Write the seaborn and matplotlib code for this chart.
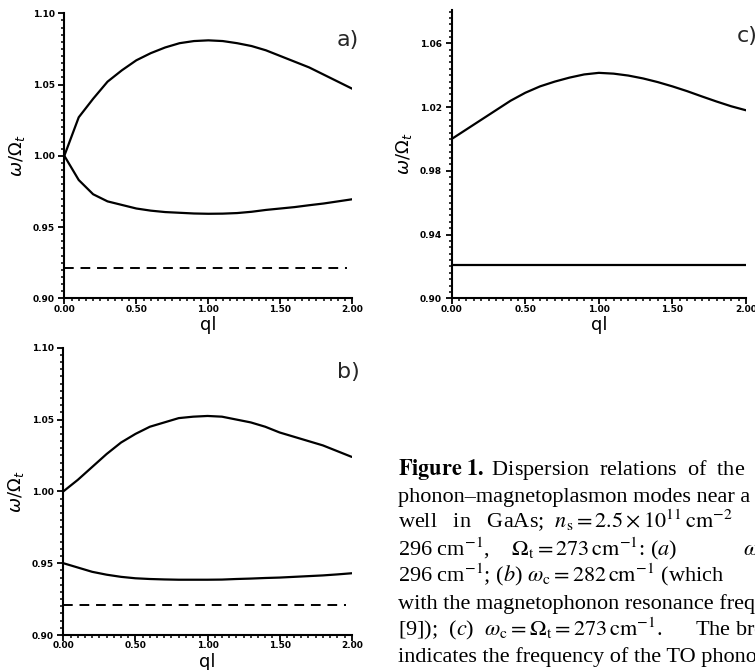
import matplotlib
matplotlib.use('Agg')
import matplotlib.pyplot as plt
import matplotlib.ticker as mticker
import seaborn as sns

# reduced wavevector ql
ql = [0.0, 0.1, 0.2, 0.3, 0.4, 0.5, 0.6, 0.7, 0.8, 0.9, 1.0,
      1.1, 1.2, 1.3, 1.4, 1.5, 1.6, 1.7, 1.8, 1.9, 2.0]

# omega / Omega_t
a_upper = [1.000, 1.027, 1.040, 1.052, 1.060, 1.067, 1.072, 1.076, 1.079, 1.0805, 1.081,
           1.0805, 1.079, 1.077, 1.074, 1.070, 1.066, 1.062, 1.057, 1.052, 1.047]
a_lower = [1.000, 0.983, 0.973, 0.968, 0.9655, 0.963, 0.9615, 0.9605, 0.960, 0.9595, 0.9593,
           0.9594, 0.9598, 0.9607, 0.962, 0.963, 0.964, 0.9653, 0.9665, 0.968, 0.9695]
b_upper = [1.000, 1.008, 1.017, 1.026, 1.034, 1.040, 1.045, 1.048, 1.051, 1.052, 1.0525,
           1.052, 1.050, 1.048, 1.045, 1.041, 1.038, 1.035, 1.032, 1.028, 1.024]
b_lower = [0.950, 0.947, 0.944, 0.942, 0.9405, 0.9395, 0.939, 0.9387, 0.9385, 0.9385, 0.9385,
           0.9386, 0.939, 0.9393, 0.9397, 0.940, 0.9405, 0.941, 0.9415, 0.9422, 0.943]
c_upper = [1.000, 1.006, 1.012, 1.018, 1.024, 1.029, 1.033, 1.036, 1.0385, 1.0405, 1.0415,
           1.041, 1.0398, 1.038, 1.0357, 1.033, 1.030, 1.0267, 1.0235, 1.0205, 1.018]

# TO phonon frequency line
to_x = [0.0, 1.96]
to_x_c = [0.0, 2.0]
to_level = [0.921, 0.921]

xticks = [0.0, 0.5, 1.0, 1.5, 2.0]
yticks_ab = [0.90, 0.95, 1.00, 1.05, 1.10]
yticks_c = [0.90, 0.94, 0.98, 1.02, 1.06]
panel_tags = ['a)', 'b)', 'c)']

# caption, cut at the right edge as in the scan
caption_lines = [
    r"$\mathbf{Figure\ 1.}$ Dispersion  relations  of  the",
    "phonon\u2013magnetoplasmon modes near a",
    r"well   in   GaAs;  $n_{\rm s} = 2.5 \times 10^{11}\,{\rm cm}^{-2}$",
    r"296 cm$^{-1}$,    $\Omega_{\rm t} = 273\,{\rm cm}^{-1}$: ($a$)            $\omega$",
    r"296 cm$^{-1}$; ($b$) $\omega_{\rm c} = 282\,{\rm cm}^{-1}$ (which",
    "with the magnetophonon resonance frequency",
    r"[9]);  ($c$)  $\omega_{\rm c} = \Omega_{\rm t} = 273\,{\rm cm}^{-1}$.      The broken",
    "indicates the frequency of the TO phonon",
]

sns.set_theme(style='ticks')
plt.rcParams['font.family'] = ['DejaVu Sans']
plt.rcParams['axes.linewidth'] = 1.5

fig = plt.figure(figsize=(7.55, 6.70), dpi=100)
ax_a = fig.add_axes([0.0852, 0.5548, 0.3815, 0.4254])
ax_b = fig.add_axes([0.0839, 0.0522, 0.3820, 0.4288])
ax_c = fig.add_axes([0.5983, 0.5548, 0.3898, 0.4304])


def style_axis(ax, yticks, ylim, yminor):
    sns.despine(ax=ax)
    ax.set_xlim(0, 2.0)
    ax.set_ylim(*ylim)
    ax.set_xticks(xticks, labels=[f'{v:.2f}' for v in xticks], fontweight='bold')
    ax.set_yticks(yticks, labels=[f'{v:.2f}' for v in yticks], fontweight='bold')
    ax.xaxis.set_minor_locator(mticker.MultipleLocator(0.05))
    ax.yaxis.set_minor_locator(mticker.MultipleLocator(yminor))
    ax.tick_params(which='major', direction='out', length=4, width=1.3,
                   labelsize=6.5, color='black', labelcolor='black')
    ax.tick_params(which='minor', direction='out', length=2.5, width=1.1, color='black')
    ax.tick_params(axis='x', pad=0.5)
    ax.tick_params(axis='y', pad=3)
    ax.set_xlabel('ql', fontsize=13, labelpad=2, color='black')
    ax.set_ylabel(r'$\omega/\Omega_t$', fontsize=13, labelpad=4, color='black',
                  math_fontfamily='dejavusans')
    for sp in ax.spines.values():
        sp.set_color('black')
    ax.set_facecolor('white')


line_kw = dict(color='black', linewidth=1.6)
dash_kw = dict(color='black', linewidth=1.4, linestyle=(0, (5, 3.5)))

# panel a
sns.lineplot(x=ql, y=a_upper, ax=ax_a, **line_kw)
sns.lineplot(x=ql, y=a_lower, ax=ax_a, **line_kw)
sns.lineplot(x=to_x, y=to_level, ax=ax_a, **dash_kw)
style_axis(ax_a, yticks_ab, (0.90, 1.10), 0.005)

# panel b
sns.lineplot(x=ql, y=b_upper, ax=ax_b, **line_kw)
sns.lineplot(x=ql, y=b_lower, ax=ax_b, **line_kw)
sns.lineplot(x=to_x, y=to_level, ax=ax_b, **dash_kw)
style_axis(ax_b, yticks_ab, (0.90, 1.10), 0.005)

# panel c
sns.lineplot(x=ql, y=c_upper, ax=ax_c, **line_kw)
sns.lineplot(x=to_x_c, y=to_level, ax=ax_c, **line_kw)
style_axis(ax_c, yticks_c, (0.90, 1.081), 0.004)

# panel tags
fig.text(348 / 755, 1 - 40 / 670, panel_tags[0], fontsize=16, ha='center', va='center')
fig.text(348 / 755, 1 - 372 / 670, panel_tags[1], fontsize=16, ha='center', va='center')
fig.text(737 / 755, 1 - 36 / 670, panel_tags[2], fontsize=16, ha='left', va='center')

base = 1 - 475 / 670
step = 26.7 / 670
for i, line in enumerate(caption_lines):
    fig.text(398 / 755, base - i * step, line, fontsize=16, family='Liberation Serif',
             math_fontfamily='stix', ha='left', va='baseline', color='black')

fig.savefig('out.png', dpi=100, facecolor='white')
